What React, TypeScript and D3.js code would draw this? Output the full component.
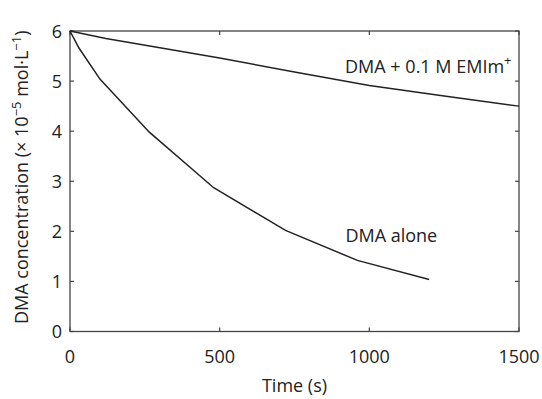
import { useEffect, useRef } from "react";
import * as d3 from "d3";

// DMA alone
const aloneTime = [0, 30, 100, 265, 480, 720, 960, 1200];
const aloneConc = [6.0, 5.66, 5.04, 3.98, 2.87, 2.02, 1.42, 1.04];

// DMA + 0.1 M EMIm+
const emimTime = [0, 120, 500, 750, 1000, 1250, 1500];
const emimConc = [6.0, 5.85, 5.46, 5.18, 4.91, 4.7, 4.5];

const xTicks = [0, 500, 1000, 1500];
const yTicks = [0, 1, 2, 3, 4, 5, 6];

const W = 542;
const H = 399;
const m = { top: 31, right: 23, bottom: 67.5, left: 70 };
const font = "'Open Sans', sans-serif";
const fs = 18;

export default function App() {
  const ref = useRef<SVGSVGElement>(null);

  useEffect(() => {
    const svg = d3.select(ref.current);
    svg.selectAll("*").remove();

    const x = d3.scaleLinear().domain([0, 1500]).range([m.left, W - m.right]);
    const y = d3.scaleLinear().domain([0, 6]).range([H - m.bottom, m.top]);
    const tk = 4;

    // frame
    svg
      .append("rect")
      .attr("x", x(0))
      .attr("y", y(6))
      .attr("width", x(1500) - x(0))
      .attr("height", y(0) - y(6))
      .attr("fill", "none")
      .attr("stroke", "#444")
      .attr("stroke-width", 1.3);

    // inward ticks on all four sides
    const g = svg.append("g").attr("stroke", "#444").attr("stroke-width", 1.2);
    xTicks.forEach((t) => {
      g.append("line").attr("x1", x(t)).attr("x2", x(t)).attr("y1", y(0)).attr("y2", y(0) - tk);
      g.append("line").attr("x1", x(t)).attr("x2", x(t)).attr("y1", y(6)).attr("y2", y(6) + tk);
    });
    yTicks.forEach((t) => {
      g.append("line").attr("x1", x(0)).attr("x2", x(0) + tk).attr("y1", y(t)).attr("y2", y(t));
      g.append("line").attr("x1", x(1500)).attr("x2", x(1500) - tk).attr("y1", y(t)).attr("y2", y(t));
    });

    svg
      .append("g")
      .selectAll("text")
      .data(xTicks)
      .join("text")
      .attr("x", (d) => x(d))
      .attr("y", y(0) + 31)
      .attr("text-anchor", "middle")
      .attr("font-family", font)
      .attr("font-size", fs)
      .attr("fill", "#222")
      .text((d) => d);

    svg
      .append("g")
      .selectAll("text")
      .data(yTicks)
      .join("text")
      .attr("x", x(0) - 8)
      .attr("y", (d) => y(d) + 6.5)
      .attr("text-anchor", "end")
      .attr("font-family", font)
      .attr("font-size", fs)
      .attr("fill", "#222")
      .text((d) => d);

    svg
      .append("text")
      .attr("x", (x(0) + x(1500)) / 2)
      .attr("y", H - 7)
      .attr("text-anchor", "middle")
      .attr("font-family", font)
      .attr("font-size", fs)
      .attr("fill", "#222")
      .text("Time (s)");

    const yl = svg
      .append("text")
      .attr("transform", `translate(28,${(y(0) + y(6)) / 2 - 4}) rotate(-90)`)
      .attr("text-anchor", "middle")
      .attr("font-family", font)
      .attr("font-size", fs)
      .attr("fill", "#222");
    yl.append("tspan").text("DMA concentration (× 10");
    yl.append("tspan").attr("dy", -7).attr("font-size", 13).text("−5");
    yl.append("tspan").attr("dy", 7).text(" mol·L");
    yl.append("tspan").attr("dy", -7).attr("font-size", 13).text("−1");
    yl.append("tspan").attr("dy", 7).text(")");

    const line = d3
      .line<[number, number]>()
      .x((d) => x(d[0]))
      .y((d) => y(d[1]));

    const alone: [number, number][] = aloneTime.map((t, i) => [t, aloneConc[i]]);
    const emim: [number, number][] = emimTime.map((t, i) => [t, emimConc[i]]);

    [alone, emim].forEach((s) => {
      svg
        .append("path")
        .attr("d", line(s))
        .attr("fill", "none")
        .attr("stroke", "#222")
        .attr("stroke-width", 1.5);
    });

    const lab = svg
      .append("text")
      .attr("x", x(1475))
      .attr("y", y(5.17))
      .attr("text-anchor", "end")
      .attr("font-family", font)
      .attr("font-size", fs)
      .attr("fill", "#222");
    lab.append("tspan").text("DMA + 0.1 M EMIm");
    lab.append("tspan").attr("dy", -8).attr("font-size", 13).text("+");

    svg
      .append("text")
      .attr("x", x(920))
      .attr("y", y(1.78))
      .attr("font-family", font)
      .attr("font-size", fs)
      .attr("fill", "#222")
      .text("DMA alone");
  }, []);

  return <svg ref={ref} width={W} height={H} style={{ position: "absolute", left: 0, top: 0, background: "#fff" }} />;
}
